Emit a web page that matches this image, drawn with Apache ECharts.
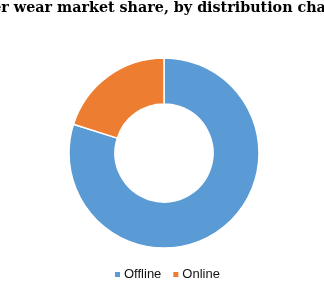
<!DOCTYPE html>
<html><head><meta charset="utf-8">
<script src="https://cdn.jsdelivr.net/npm/echarts@6/dist/echarts.min.js"></script>
<style>html,body{margin:0;padding:0;background:#fff;}#c{width:324px;height:291px;}</style>
</head><body><div id="c"></div>
<script>
const titleText = "Outer wear market share, by distribution channel";
const categories = ["Offline", "Online"];
const shares = [79.9, 20.1];
const colors = ["#5B9BD5", "#ED7D31"];

const chart = echarts.init(document.getElementById('c'), null, {renderer: 'canvas'});
chart.setOption({
  animation: false,
  title: {
    text: titleText, left: 'center', top: 1, padding: 0,
    textStyle: {fontFamily: 'DejaVu Serif', fontWeight: 'bold', fontSize: 14.3, color: '#000'}
  },
  legend: {
    top: 268, left: 113, padding: 0, itemWidth: 7, itemHeight: 7, itemGap: 10,
    icon: 'rect',
    textStyle: {fontFamily: 'Liberation Sans', fontSize: 13, color: '#111', padding: [0,0,0,-2]},
    data: categories
  },
  series: [{
    type: 'pie', radius: [49, 95], center: [164, 153],
    startAngle: 90, clockwise: true,
    label: {show: false}, labelLine: {show: false},
    itemStyle: {borderColor: '#fff', borderWidth: 1.5},
    emphasis: {disabled: true},
    data: categories.map((c, i) => ({name: c, value: shares[i], itemStyle: {color: colors[i]}}))
  }]
});
</script></body></html>
